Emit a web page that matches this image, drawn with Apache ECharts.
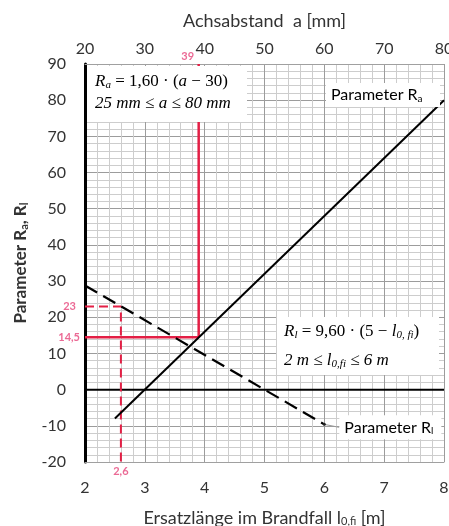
<!DOCTYPE html>
<html>
<head>
<meta charset="utf-8">
<script src="https://cdn.jsdelivr.net/npm/echarts@6/dist/echarts.min.js"></script>
<style>
  html, body { margin: 0; padding: 0; background: #fff; }
  #chart { width: 449px; height: 526px; }
</style>
</head>
<body>
<div id="chart"></div>
<script>
// Axis ranges: Ersatzlänge l0,fi (bottom), Achsabstand a (top), Parameter R (left)
const lTicks = [2, 3, 4, 5, 6, 7, 8];
const aTicks = [20, 30, 40, 50, 60, 70, 80];
const rTicks = [-20, -10, 0, 10, 20, 30, 40, 50, 60, 70, 80, 90];

// Parameter R_a = 1,60 · (a − 30), valid for 25 mm ≤ a ≤ 80 mm
const aValues = [25, 80];
const raValues = [-8, 80];

// Parameter R_l = 9,60 · (5 − l0,fi), valid for 2 m ≤ l0,fi ≤ 6 m
const lValues = [2, 6];
const rlValues = [28.8, -9.6];

// Worked example: a = 39 mm gives R_a = 14,5
const exampleA = 39;
const exampleRa = 14.5;
// Worked example: l0,fi = 2,6 m gives R_l = 23
const exampleL = 2.6;
const exampleRl = 23;

const RED = '#e31f45';
const RED_TEXT = '#e6457a';
const SANS = 'Lato, "Open Sans", sans-serif';
const SERIF = '"Liberation Serif", "DejaVu Serif", serif';

const lMin = lTicks[0], lMax = lTicks[lTicks.length - 1];
const aMin = aTicks[0], aMax = aTicks[aTicks.length - 1];
const rMin = rTicks[0], rMax = rTicks[rTicks.length - 1];

const zip = (xs, ys) => xs.map((x, i) => [x, ys[i]]);
const deComma = v => String(v).replace('.', ',');

const chart = echarts.init(document.getElementById('chart'), null, { renderer: 'canvas' });

const subRich = {
  sub: { fontSize: 11, fontFamily: SANS, verticalAlign: 'bottom', padding: [7, 0, 0, 0], color: '#333' }
};

const labelPoint = (axisIndex, point, position, distance, offset) => ({
  type: 'scatter',
  xAxisIndex: axisIndex,
  symbolSize: 0,
  silent: true,
  z: 20,
  data: [point],
  label: {
    show: true,
    position: position,
    distance: distance,
    offset: offset || [0, 0],
    color: RED_TEXT,
    fontFamily: SANS,
    fontSize: 11,
    fontWeight: 'bold',
    formatter: p => deComma(position === 'bottom' || position === 'top' ? p.value[0] : p.value[1])
  }
});

const option = {
  backgroundColor: '#fff',
  animation: false,
  grid: { left: 85, right: 5, top: 64, bottom: 64, containLabel: false, outerBoundsMode: 'none' },
  xAxis: [
    {
      type: 'value', position: 'bottom',
      min: lMin, max: lMax, interval: 1,
      name: 'Ersatzlänge im Brandfall l{sub|0,fi} [m]',
      nameLocation: 'middle', nameGap: 47,
      nameTextStyle: { fontFamily: SANS, fontSize: 18, color: '#333', rich: subRich },
      axisLine: { show: true, onZero: false, lineStyle: { color: '#a0a0a0', width: 1 } },
      axisTick: { show: false },
      axisLabel: { margin: 18, fontFamily: SANS, fontSize: 16, color: '#333' },
      splitLine: { show: true, lineStyle: { color: '#9c9c9c', width: 1 } },
      minorTick: { show: false, splitNumber: 5 },
      minorSplitLine: { show: true, lineStyle: { color: '#cdcdcd', width: 1 } }
    },
    {
      type: 'value', position: 'top',
      min: aMin, max: aMax, interval: 10,
      name: 'Achsabstand  a [mm]',
      nameLocation: 'middle', nameGap: 34,
      nameTextStyle: { fontFamily: SANS, fontSize: 18, color: '#333' },
      axisLine: { show: true, onZero: false, lineStyle: { color: '#a0a0a0', width: 1 } },
      axisTick: { show: false },
      axisLabel: { margin: 7, fontFamily: SANS, fontSize: 16, color: '#333' },
      splitLine: { show: false }
    }
  ],
  yAxis: {
    type: 'value',
    min: rMin, max: rMax, interval: 10,
    name: 'Parameter R{sub|a}, R{sub|l}',
    nameLocation: 'middle', nameRotate: 90, nameGap: 55,
    nameTextStyle: {
      fontFamily: SANS, fontSize: 17, fontWeight: 'bold', color: '#333',
      rich: { sub: { fontSize: 11, fontFamily: SANS, fontWeight: 'bold', verticalAlign: 'bottom', padding: [7, 0, 0, 0], color: '#333' } }
    },
    axisLine: { show: true, onZero: false, lineStyle: { color: '#000', width: 3 } },
    axisTick: { show: false },
    axisLabel: { margin: 19, fontFamily: SANS, fontSize: 16, color: '#333' },
    splitLine: { show: true, lineStyle: { color: '#9c9c9c', width: 1 } },
    minorTick: { show: false, splitNumber: 5 },
    minorSplitLine: { show: true, lineStyle: { color: '#cdcdcd', width: 1 } }
  },
  series: [
    {
      // zero reference line
      type: 'line', xAxisIndex: 0, symbol: 'none', silent: true, z: 3,
      data: [[lMin, 0], [lMax, 0]],
      lineStyle: { color: '#000', width: 2 }
    },
    {
      // worked example for a
      type: 'line', xAxisIndex: 1, symbol: 'none', silent: true, z: 4,
      data: [[exampleA, rMax], [exampleA, exampleRa], [aMin, exampleRa]],
      lineStyle: { color: RED, width: 2.5 }
    },
    {
      // worked example for l0,fi
      type: 'line', xAxisIndex: 0, symbol: 'none', silent: true, z: 4,
      data: [[lMin, exampleRl], [exampleL, exampleRl], [exampleL, rMin]],
      lineStyle: { color: RED, width: 2, type: [9, 5] }
    },
    {
      name: 'Parameter Ra',
      type: 'line', xAxisIndex: 1, symbol: 'none', z: 5,
      data: zip(aValues, raValues),
      lineStyle: { color: '#000', width: 2 }
    },
    {
      name: 'Parameter Rl',
      type: 'line', xAxisIndex: 0, symbol: 'none', z: 5,
      data: zip(lValues, rlValues),
      lineStyle: { color: '#000', width: 2.2, type: [14, 7] }
    },
    labelPoint(1, [exampleA, rMax], 'top', 4, [-11, 2]),
    labelPoint(1, [aMin, exampleRa], 'left', 5),
    labelPoint(0, [lMin, exampleRl], 'left', 9),
    labelPoint(0, [exampleL, rMin], 'bottom', 4)
  ]
};

chart.setOption(option);

// Formula boxes, series captions and leader line
const serifRich = {
  it: { fontFamily: SERIF, fontStyle: 'italic', fontSize: 17, color: '#222' },
  n: { fontFamily: SERIF, fontSize: 17, color: '#222' },
  s: { fontFamily: SERIF, fontStyle: 'italic', fontSize: 11, color: '#222', verticalAlign: 'bottom', padding: [7, 0, 0, 0] }
};
const sansRich = {
  n: { fontFamily: SANS, fontSize: 16, color: '#333' },
  s: { fontFamily: SANS, fontSize: 10, color: '#333', verticalAlign: 'bottom', padding: [7, 0, 0, 0] }
};

const rlEnd = chart.convertToPixel({ xAxisIndex: 0, yAxisIndex: 0 }, [lValues[1], rlValues[1]]);
const rlCaptionX = rlEnd[0] + 15;
const rlCaptionY = rlEnd[1] + 3;

chart.setOption({
  graphic: [
    { type: 'rect', z: 50, shape: { x: 87, y: 66, width: 160, height: 56 }, style: { fill: '#fff' } },
    { type: 'text', z: 51, x: 95, y: 82,
      style: { text: '{it|R}{s|a}{n| = 1,60 · (}{it|a}{n| − 30)}', rich: serifRich, verticalAlign: 'middle' } },
    { type: 'text', z: 51, x: 95, y: 104,
      style: { text: '{it|25 mm ≤ a ≤ 80 mm}', rich: serifRich, verticalAlign: 'middle' } },

    { type: 'rect', z: 50, shape: { x: 277, y: 317, width: 162, height: 58 }, style: { fill: '#fff' } },
    { type: 'text', z: 51, x: 284, y: 332,
      style: { text: '{it|R}{s|l}{n| = 9,60 · (5 − }{it|l}{s|0, fi}{n|)}', rich: serifRich, verticalAlign: 'middle' } },
    { type: 'text', z: 51, x: 284, y: 361,
      style: { text: '{it|2 m ≤ l}{s|0,fi}{it| ≤ 6 m}', rich: serifRich, verticalAlign: 'middle' } },

    { type: 'rect', z: 50, shape: { x: 326, y: 83, width: 114, height: 24 }, style: { fill: '#fff' } },
    { type: 'text', z: 51, x: 331, y: 95,
      style: { text: '{n|Parameter R}{s|a}', rich: sansRich, verticalAlign: 'middle' } },

    { type: 'line', z: 49, shape: { x1: rlEnd[0], y1: rlEnd[1], x2: rlCaptionX, y2: rlCaptionY },
      style: { stroke: '#999', lineWidth: 1 } },
    { type: 'circle', z: 52, shape: { cx: rlEnd[0], cy: rlEnd[1], r: 1.5 }, style: { fill: '#222' } },
    { type: 'rect', z: 50, shape: { x: rlCaptionX, y: rlCaptionY - 12, width: 102, height: 24 }, style: { fill: '#fff' } },
    { type: 'text', z: 51, x: rlCaptionX + 5, y: rlCaptionY,
      style: { text: '{n|Parameter R}{s|l}', rich: sansRich, verticalAlign: 'middle' } }
  ]
});
</script>
</body>
</html>
